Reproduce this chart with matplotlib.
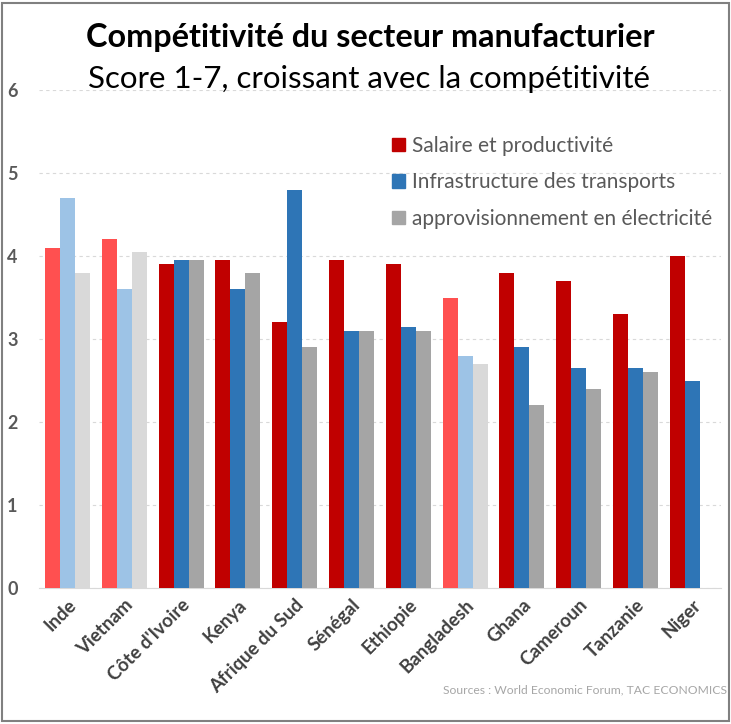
import numpy as np
import matplotlib.pyplot as plt
from matplotlib.patches import Rectangle, Patch

# Données
pays = ['Inde', 'Vietnam', "Côte d'Ivoire", 'Kenya', 'Afrique du Sud', 'Sénégal',
        'Ethiopie', 'Bangladesh', 'Ghana', 'Cameroun', 'Tanzanie', 'Niger']
salaire = [4.1, 4.2, 3.9, 3.95, 3.2, 3.95, 3.9, 3.5, 3.8, 3.7, 3.3, 4.0]
transports = [4.7, 3.6, 3.95, 3.6, 4.8, 3.1, 3.15, 2.8, 2.9, 2.65, 2.65, 2.5]
electricite = [3.8, 4.05, 3.95, 3.8, 2.9, 3.1, 3.1, 2.7, 2.2, 2.4, 2.6, np.nan]
series = ['Salaire et productivité', 'Infrastructure des transports',
          'approvisionnement en électricité']
# pays hors Afrique mis en couleur claire
hors_afrique = ['Inde', 'Vietnam', 'Bangladesh']

couleurs = ['#C00000', '#2E75B6', '#A5A5A5']
couleurs_claires = ['#FF5050', '#9DC3E6', '#D9D9D9']

plt.rcParams['font.family'] = ['Lato', 'DejaVu Sans']

fig = plt.figure(figsize=(7.31, 7.24), dpi=100)
ax = fig.add_axes([0.0534, 0.1878, 0.9326, 0.6879])

x = np.arange(len(pays))
width = 0.79 / 3
for i, vals in enumerate([salaire, transports, electricite]):
    cols = [couleurs_claires[i] if p in hors_afrique else couleurs[i] for p in pays]
    ax.bar(x + (i - 1) * width, vals, width, color=cols, zorder=3)

ax.set_xlim(-0.5, len(pays) - 0.5)
ax.set_ylim(0, 6)
ax.set_yticks(range(0, 7))
ax.yaxis.grid(True, linestyle=(0, (3, 3)), color='#D9D9D9', linewidth=0.8, zorder=0)
for s in ['top', 'right', 'left']:
    ax.spines[s].set_visible(False)
ax.spines['bottom'].set_color('#D9D9D9')
ax.tick_params(axis='both', length=0)
ax.tick_params(axis='y', pad=23)
ax.tick_params(axis='x', pad=6)
ax.set_yticklabels([str(v) for v in range(0, 7)], fontsize=13,
                   fontweight='bold', color='#595959', ha='left')
ax.set_xticks(x)
ax.set_xticklabels(pays, rotation=45, ha='right', rotation_mode='anchor',
                   fontsize=13.5, fontweight='bold', color='#404040')

handles = [Patch(color=c) for c in couleurs]
leg = ax.legend(handles, series, loc='upper left', bbox_to_anchor=(0.506, 0.925),
                frameon=False, fontsize=15, handlelength=0.6, handleheight=0.6,
                handletextpad=0.35, labelspacing=0.8, labelcolor='#595959',
                borderaxespad=0)

fig.text(0.507, 0.948, 'Compétitivité du secteur manufacturier', ha='center',
         va='center', fontsize=23.3, fontweight='bold', color='black')
fig.text(0.505, 0.891, 'Score 1-7, croissant avec la compétitivité', ha='center',
         va='center', fontsize=22.5, color='black')
fig.text(0.994, 0.047, 'Sources : World Economic Forum, TAC ECONOMICS', ha='right',
         va='center', fontsize=8.7, color='#A6A6A6')

fig.patches.append(Rectangle((0.003, 0.004), 0.994, 0.992, transform=fig.transFigure,
                             fill=False, edgecolor='#808080', linewidth=1.5))

plt.savefig('out.png', dpi=100)
